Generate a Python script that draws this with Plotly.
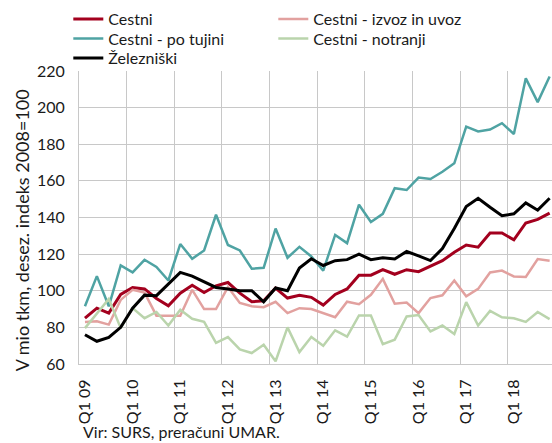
import plotly.graph_objects as go

years = list(range(9, 19))
quarters = [f"Q{q} {y:02d}" for y in years for q in range(1, 5)]
tick_labels = [f"Q1 {y:02d}" for y in years]

cestni = [85, 90.5, 87.8, 98, 101.8, 101, 95.8, 91.8, 98.7, 103, 99, 102.7,
          104.5, 98.7, 94, 94.5, 101.5, 96, 97.5, 96.4, 92.2, 98, 101, 108.5,
          108.5, 111.5, 109, 111.5, 110.4, 113.3, 116.4, 121, 125, 123.8, 131.5, 131.5,
          127.8, 137, 139, 142.4]
izvoz_uvoz = [83, 83.3, 81.5, 95, 100.5, 99, 86.4, 86.4, 86.4, 100.5, 90, 90,
              102, 93.3, 91.5, 91, 94, 87.8, 90.5, 90, 87.8, 85.5, 94, 92.7,
              97.8, 106.5, 92.9, 93.6, 87.8, 96, 97.5, 105.6, 97, 101, 110, 111,
              107.8, 107.5, 117.3, 116.4]
po_tujini = [91.5, 108, 91.5, 113.8, 110, 116.9, 113, 105.6, 125.5, 117.5, 122, 141.5,
             125, 122, 112, 112.5, 134, 118, 124, 118.7, 111, 130.5, 126, 147,
             137.5, 142, 156, 155, 161.8, 161, 165, 169.6, 189.6, 187, 188, 191.5,
             185.6, 216, 203, 217]
notranji = [79.6, 87.8, 95.5, 79.6, 90.5, 85, 88.4, 81, 89.6, 84.7, 83, 71.5,
            74.7, 68, 66, 70.5, 61.5, 80, 66.5, 74.7, 70, 78.4, 75, 86.5,
            86.5, 70.8, 73.3, 86, 86.7, 77.8, 81, 76.4, 93.8, 81, 89, 85.5,
            85, 83, 88.4, 84.5]
zelezniski = [76, 72.4, 74.5, 80, 90.5, 97.6, 97.3, 103.5, 110, 108, 105, 101.8,
              101, 100, 100, 94, 101.5, 100, 112.4, 117.5, 113.8, 116.4, 117, 120,
              117, 118, 117.3, 121.5, 119, 116.5, 123, 134, 146, 150.5, 145.6, 141,
              142, 148, 144, 150.5]

series = [
    ("Cestni", cestni, "#A3001E", 3, "legend"),
    ("Cestni - izvoz in uvoz", izvoz_uvoz, "#E2A19F", 2.5, "legend"),
    ("Cestni - po tujini", po_tujini, "#4FA3A3", 2.5, "legend2"),
    ("Cestni - notranji", notranji, "#BAD4AC", 2.5, "legend2"),
    ("Železniški", zelezniski, "#000000", 3, "legend3"),
]

x = list(range(len(quarters)))
fig = go.Figure()
for name, vals, color, w, lg in series:
    fig.add_trace(go.Scatter(x=x, y=vals, name=name, mode="lines", legend=lg,
                             line=dict(color=color, width=w),
                             text=quarters, hovertemplate="%{text}: %{y}<extra>" + name + "</extra>"))

FONT = "Lato"
TXT = "#1a1a1a"
grid = "#C8C8C8"
W_PLOT = 552 - 78.7
H_TOP, H_PLOT = 71, 293


def py(p):
    return 1 + (H_TOP - p) / H_PLOT


def px(p):
    return (p - 78.7) / W_PLOT


leg_common = dict(orientation="h", xanchor="left", yanchor="middle",
                  entrywidth=160, entrywidthmode="pixels", itemwidth=30,
                  font=dict(family=FONT, size=16, color=TXT),
                  bgcolor="rgba(0,0,0,0)", borderwidth=0)

fig.update_layout(
    width=552, height=443,
    margin=dict(l=79, r=0, t=71, b=79),
    paper_bgcolor="white", plot_bgcolor="white",
    font=dict(family=FONT, size=16, color=TXT),
    showlegend=True,
    legend=dict(x=px(68), y=py(19), **leg_common),
    legend2=dict(x=px(68), y=py(38.5), **leg_common),
    legend3=dict(x=px(68), y=py(58), **leg_common),
    xaxis=dict(range=[-0.5, 39.2], tickmode="array",
               tickvals=[x[i] for i in range(0, len(x), 4)], ticktext=tick_labels,
               tickangle=-90, showgrid=False, zeroline=False,
               ticks="outside", ticklen=8, tickcolor="rgba(0,0,0,0)",
               showline=True, linecolor=grid, linewidth=1,
               tickfont=dict(family=FONT, size=16, color=TXT),
               minor=dict(tickmode="array", tickvals=[i - 0.5 for i in range(0, len(x) + 1, 4)],
                          showgrid=True, gridcolor=grid, gridwidth=1, ticks="")),
    yaxis=dict(range=[60, 220], dtick=20, showgrid=True, gridcolor=grid, gridwidth=1,
               zeroline=False, showline=True, linecolor=grid, linewidth=1,
               ticks="outside", ticklen=10, tickcolor="rgba(0,0,0,0)",
               tickfont=dict(family=FONT, size=16, color=TXT)),
)
fig.add_annotation(text="V mio tkm, desez. indeks 2008=100", textangle=-90,
                   xref="paper", yref="paper", x=px(22), y=py(230),
                   xanchor="center", yanchor="middle", showarrow=False,
                   font=dict(family=FONT, size=18, color=TXT))
fig.add_annotation(text="Vir: SURS, preračuni UMAR.", xref="paper", yref="paper",
                   x=px(81), y=py(432), xanchor="left", yanchor="middle", showarrow=False,
                   font=dict(family=FONT, size=16, color=TXT))
fig.write_html("out.html", config={"displayModeBar": False},
               post_script="document.body.style.margin='0px';")
